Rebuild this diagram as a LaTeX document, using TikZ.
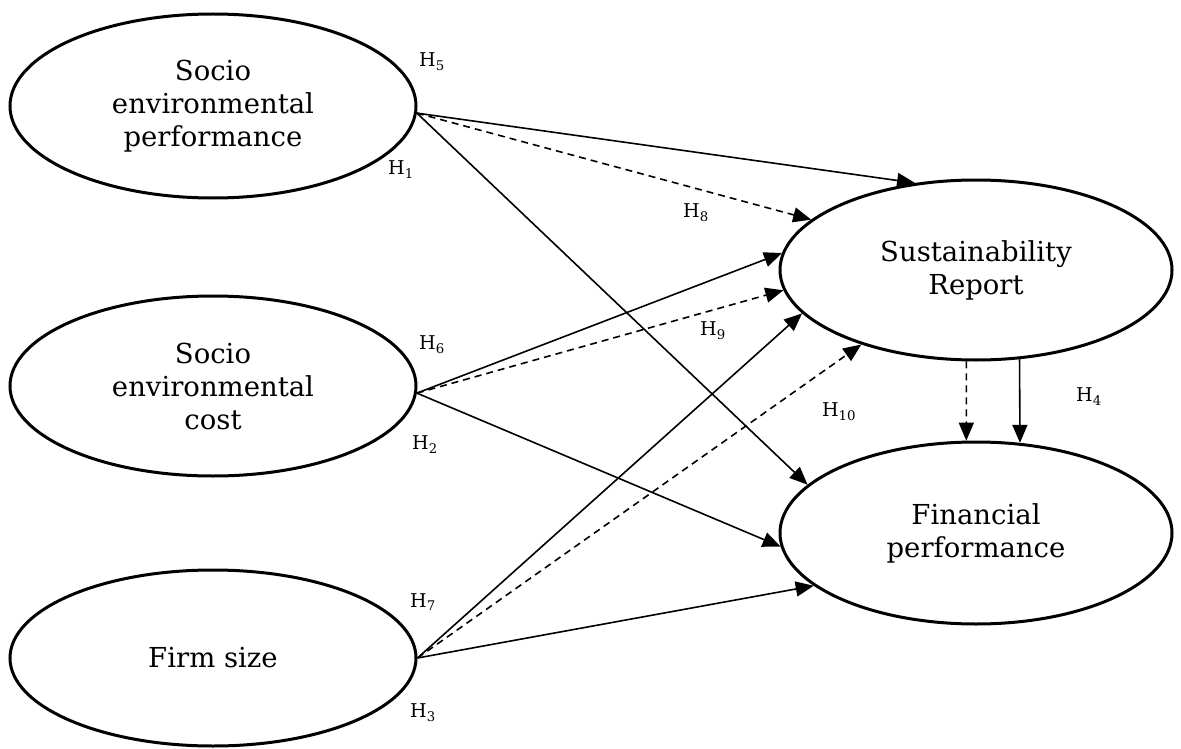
\documentclass[tikz,border=0pt]{standalone}
\usepackage{fontspec}
\setmainfont{DejaVu Serif}
\usetikzlibrary{shapes.geometric,arrows.meta}
\begin{document}
\begin{tikzpicture}[x=1pt,y=-1pt,
  var/.style={draw,ellipse,line width=3pt,inner sep=0pt,align=center,
    font=\fontsize{27.5}{33}\selectfont},
  conn/.style={line width=1.6pt,-{Triangle[length=18pt,width=15pt]}},
  dconn/.style={conn,dash pattern=on 7pt off 5pt},
  hlab/.style={font=\fontsize{19}{22}\selectfont,inner sep=0pt}]
\useasboundingbox (0,0) rectangle (1181,749);
\node[var,minimum width=406pt,minimum height=184pt] (e1) at (213,106) {Socio\\environmental\\performance};
\node[var,minimum width=406pt,minimum height=180pt] (e2) at (213,386) {Socio\\environmental\\cost};
\node[var,minimum width=406pt,minimum height=176pt] (e3) at (213,658) {Firm size};
\node[var,minimum width=392pt,minimum height=180pt] (sr) at (976,270) {Sustainability\\Report};
\node[var,minimum width=392pt,minimum height=182pt] (fp) at (976,533) {Financial\\performance};
% from socio-environmental performance
\draw[conn] (e1.-2) -- (sr.125);
\draw[dconn] (e1.-2) -- (sr.163);
\draw[conn] (e1.-2) -- (fp.164.5);
% from socio-environmental cost
\draw[conn] (e2.-2) -- (sr.175);
\draw[dconn] (e2.-2) -- (sr.186);
\draw[conn] (e2.-2) -- (fp.184);
% from firm size
\draw[conn] (e3.east) -- (sr.194);
\draw[dconn] (e3.east) -- (sr.213);
\draw[conn] (e3.east) -- (fp.198);
% report to financial performance
\draw[dconn] (sr.264) -- (fp.96);
\draw[conn] (sr.-64) -- (fp.64);
% labels
\node[hlab] (h5) at (432,62) {H\textsubscript{5}};
\node[hlab] (h1) at (401,170) {H\textsubscript{1}};
\node[hlab] (h8) at (696,213) {H\textsubscript{8}};
\node[hlab] (h6) at (432,345) {H\textsubscript{6}};
\node[hlab] (h2) at (425,445) {H\textsubscript{2}};
\node[hlab] (h9) at (713,331) {H\textsubscript{9}};
\node[hlab] (h10) at (839,412) {H\textsubscript{10}};
\node[hlab] (h4) at (1089,397) {H\textsubscript{4}};
\node[hlab] (h7) at (423,602) {H\textsubscript{7}};
\node[hlab] (h3) at (423,713) {H\textsubscript{3}};
\end{tikzpicture}
\end{document}
